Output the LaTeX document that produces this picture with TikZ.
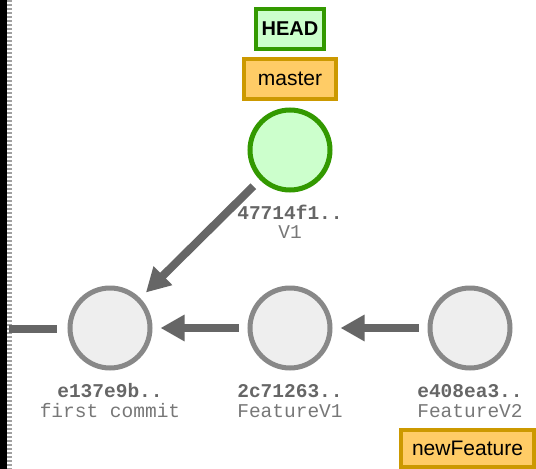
\documentclass[tikz,border=0pt]{standalone}
\usepackage{fontspec}
\setmainfont{Liberation Sans}
\setmonofont{Liberation Mono}
\usetikzlibrary{arrows.meta}
\definecolor{cgreen}{HTML}{339900}
\definecolor{cgreenfill}{HTML}{CCFFCC}
\definecolor{corange}{HTML}{CC9900}
\definecolor{corangefill}{HTML}{FFCC66}
\definecolor{cgray}{HTML}{888888}
\definecolor{cgrayfill}{HTML}{EEEEEE}
\definecolor{carrow}{HTML}{666666}
\definecolor{clabel}{HTML}{666666}
\definecolor{clabeltwo}{HTML}{777777}
\tikzset{
  commit/.style={circle, draw=cgray, fill=cgrayfill, line width=5pt, minimum size=80pt, inner sep=0pt},
  headcommit/.style={commit, draw=cgreen, fill=cgreenfill},
  headref/.style={draw=cgreen, fill=cgreenfill, line width=4pt, font=\fontsize{20}{24}\selectfont\bfseries, text=black, inner sep=0pt},
  branchref/.style={draw=corange, fill=corangefill, line width=4pt, font=\fontsize{21}{25}\selectfont, text=black, inner sep=0pt},
  hashlbl/.style={font=\ttfamily\fontsize{19.5}{20}\selectfont\bfseries, text=clabel},
  msglbl/.style={font=\ttfamily\fontsize{19.5}{20}\selectfont, text=clabeltwo},
  parentarrow/.style={draw=carrow, line width=8pt, -{Triangle[length=24pt,width=25pt]}, shorten <=9pt, shorten >=8pt},
}
\begin{document}
\begin{tikzpicture}[x=1pt,y=-1pt]
\useasboundingbox (0,0) rectangle (536,469);
% left edge
\fill[black] (0,0) rectangle (7,469);
\draw[cgray!80, line width=5pt, dash pattern=on 2pt off 2pt] (9.5,0) -- (9.5,469);
% commits
\node[commit] (c1) at (110,328) {};
\node[commit] (c2) at (290,328) {};
\node[commit] (c3) at (470,328) {};
\node[headcommit] (c4) at (290,150) {};
% labels
\node[hashlbl] (h1) at (110,391) {e137e9b..};
\node[msglbl] (m1) at (110,411) {first commit};
\node[hashlbl] (h2) at (290,391) {2c71263..};
\node[msglbl] (m2) at (290,411) {FeatureV1};
\node[hashlbl] (h3) at (470,391) {e408ea3..};
\node[msglbl] (m3) at (470,411) {FeatureV2};
\node[hashlbl] (h4) at (290,212) {47714f1..};
\node[msglbl] (m4) at (290,232) {V1};
% refs
\node[headref, minimum width=68pt, minimum height=40pt] (head) at (290,29) {HEAD};
\node[branchref, minimum width=92pt, minimum height=40pt] (master) at (290,79) {master};
\node[branchref, minimum width=133pt, minimum height=37pt] (nf) at (467.5,448) {newFeature};
% arrows
\coordinate (stubL) at (9,329);
\coordinate (stubR) at (57,329);
\draw[draw=carrow, line width=8pt] (stubL) -- (stubR);
\draw[parentarrow] (c2) -- (c1);
\draw[parentarrow] (c3) -- (c2);
\draw[parentarrow] (c4) -- (c1);
\end{tikzpicture}
\end{document}
